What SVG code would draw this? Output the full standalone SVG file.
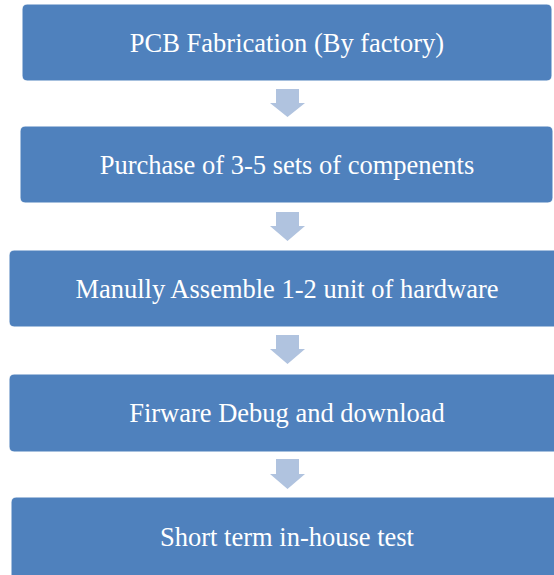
<svg xmlns="http://www.w3.org/2000/svg" width="554" height="575" viewBox="0 0 554 575">
<style>
.box{fill:#4F81BD;stroke:#FFFFFF;stroke-width:1}
.lbl{font-family:"Liberation Serif","Times New Roman",serif;font-size:26.5px;fill:#FFFFFF;text-anchor:middle}
.arr{fill:#B0C3DF}
</style>
<rect width="554" height="575" fill="#FFFFFF"/>
<g id="connectors">
<polygon class="arr" points="276,89 299,89 299,103 305,103 287.5,117 270,103 276,103"/>
<polygon class="arr" points="276,212 299,212 299,226 305,226 287.5,241 270,226 276,226"/>
<polygon class="arr" points="276,335 299,335 299,349 305,349 287.5,364 270,349 276,349"/>
<polygon class="arr" points="276,459 299,459 299,474 305,474 287.5,489 270,474 276,474"/>
</g>
<g id="node1">
<rect class="box" x="22" y="4" width="530" height="77" rx="5"/>
<text class="lbl" x="287" y="52">PCB Fabrication (By factory)</text>
</g>
<g id="node2">
<rect class="box" x="20" y="126" width="533" height="77" rx="5"/>
<text class="lbl" x="287" y="174">Purchase of 3-5 sets of compenents</text>
</g>
<g id="node3">
<rect class="box" x="9" y="250" width="560" height="77" rx="5"/>
<text class="lbl" x="287" y="298">Manully Assemble 1-2 unit of hardware</text>
</g>
<g id="node4">
<rect class="box" x="9" y="374" width="560" height="78" rx="5"/>
<text class="lbl" x="287" y="422">Firware Debug and download</text>
</g>
<g id="node5">
<rect class="box" x="11" y="497" width="560" height="85" rx="5"/>
<text class="lbl" x="287" y="546">Short term in-house test</text>
</g>
</svg>
